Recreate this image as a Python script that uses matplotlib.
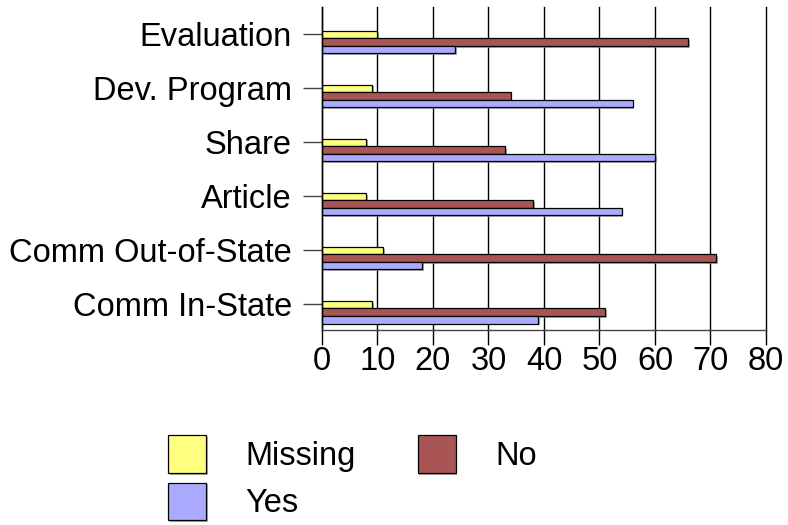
import matplotlib
matplotlib.use("Agg")
import matplotlib.pyplot as plt
import matplotlib.patheffects as pe
import numpy as np

plt.rcParams['font.family'] = ['Liberation Sans', 'DejaVu Sans']

categories = ["Evaluation", "Dev. Program", "Share", "Article",
              "Comm Out-of-State", "Comm In-State"]
missing = [10, 9, 8, 8, 11, 9]
no = [66, 34, 33, 38, 71, 51]
yes = [24, 56, 60, 54, 18, 39]

c_missing = "#FFFF80"
c_no = "#AA5555"
c_yes = "#AAAAFF"

fig = plt.figure(figsize=(7.88, 5.25), dpi=100)
ax = fig.add_axes([0.4086, 0.3714, 0.972 - 0.4086, 0.9867 - 0.3714])

pos = np.arange(len(categories))
h = 0.139
shadow = [pe.SimplePatchShadow(offset=(1.2, -1.2), shadow_rgbFace="#888888", alpha=0.7), pe.Normal()]
b1 = ax.barh(pos + 0.01, missing, height=h, color=c_missing, edgecolor="black", lw=0.9, label="Missing")
b2 = ax.barh(pos + 0.15, no, height=h, color=c_no, edgecolor="black", lw=0.9, label="No")
b3 = ax.barh(pos + 0.29, yes, height=h, color=c_yes, edgecolor="black", lw=0.9, label="Yes")
for bars in (b1, b2, b3):
    for b in bars:
        b.set_path_effects(shadow)

ax.set_xlim(0, 80)
ax.set_ylim(5.48, -0.5)
ax.set_xticks(range(0, 81, 10))
ax.set_yticks(pos)
ax.set_yticklabels(categories)
ax.xaxis.grid(True, color="black", lw=1)
for gl in ax.xaxis.get_gridlines():
    gl.set_clip_on(False)
ax.set_axisbelow(True)
for s in ("top", "right"):
    ax.spines[s].set_visible(False)
ax.spines["left"].set_linewidth(1)
ax.spines["bottom"].set_linewidth(1)
ax.spines["bottom"].set_color("#444444")
ax.tick_params(axis="y", length=13.7, width=1, pad=8, labelsize=23.5, color="#444444")
ax.tick_params(axis="x", length=11, width=1, pad=0.5, labelsize=23.5)

fig.legend([b1, b3, b2], ["Missing", "Yes", "No"], ncol=2, frameon=False,
           fontsize=23.5, handlelength=1.17, handleheight=1.4, handletextpad=1.2,
           columnspacing=1.9, labelspacing=0.3, borderaxespad=0, borderpad=0,
           loc="upper left", bbox_to_anchor=(0.213, 0.171))

fig.savefig("out.png", dpi=100)
